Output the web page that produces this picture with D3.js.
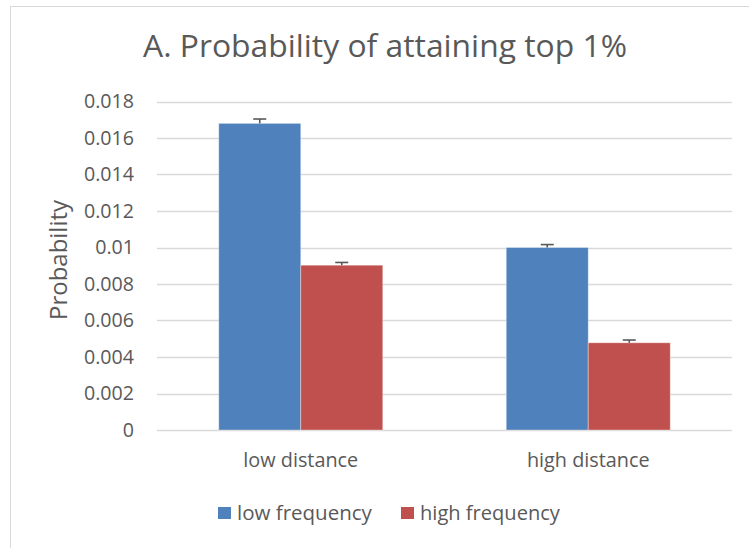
<!DOCTYPE html>
<html>
<head>
<meta charset="utf-8">
<script src="https://cdn.jsdelivr.net/npm/d3@7"></script>
<style>
  html, body { margin: 0; padding: 0; background: #fff; }
  svg { display: block; }
  text { font-family: "Open Sans", "Noto Sans", sans-serif; fill: #595959; }
</style>
</head>
<body>
<svg id="chart" width="749" height="548"></svg>
<script>
const chartTitle = "A. Probability of attaining top 1%";
const yAxisTitle = "Probability";
const categories = ["low distance", "high distance"];
const series = ["low frequency", "high frequency"];
const lowFrequency = [0.0168, 0.0100];
const highFrequency = [0.00903, 0.00478];
const lowFrequencyErr = [0.00024, 0.00016];
const highFrequencyErr = [0.00015, 0.00015];
const yTickValues = [0, 0.002, 0.004, 0.006, 0.008, 0.01, 0.012, 0.014, 0.016, 0.018];
const yTickLabels = ["0", "0.002", "0.004", "0.006", "0.008", "0.01", "0.012", "0.014", "0.016", "0.018"];
const colors = ["#4F81BD", "#C0504D"];

const values = [lowFrequency, highFrequency];
const errors = [lowFrequencyErr, highFrequencyErr];
const rows = [];
series.forEach((s, si) => categories.forEach((c, ci) => {
  rows.push({ series: s, category: c, value: values[si][ci], err: errors[si][ci], color: colors[si] });
}));

const svg = d3.select("#chart");

function fit(sel, w) {
  const l = sel.node().getComputedTextLength();
  const fs = parseFloat(sel.attr("font-size"));
  sel.attr("font-size", (fs * w / l).toFixed(2));
  return sel;
}
function fitAll(sel, refIndex, w) {
  const node = sel.nodes()[refIndex];
  const l = node.getComputedTextLength();
  const fs = parseFloat(d3.select(node).attr("font-size"));
  sel.attr("font-size", (fs * w / l).toFixed(2));
}

// outer border
svg.append("rect").attr("x", 10.5).attr("y", 6.5).attr("width", 800).attr("height", 600)
  .attr("fill", "#fff").attr("stroke", "#d9d9d9").attr("stroke-width", 1);

const plotLeft = 157, plotRight = 732, plotTop = 101.5, plotBottom = 430;

const y = d3.scaleLinear().domain([0, 0.018]).range([plotBottom, plotTop]);
const x0 = d3.scaleBand().domain(categories).range([plotLeft, plotRight]).paddingInner(0).paddingOuter(0);
const x1 = d3.scaleBand().domain(series).range([0, x0.bandwidth()]).paddingInner(0).paddingOuter(0.753);

// gridlines
svg.append("g").selectAll("line").data(yTickValues).join("line")
  .attr("x1", plotLeft).attr("x2", plotRight)
  .attr("y1", d => Math.round(y(d)) + 0.5).attr("y2", d => Math.round(y(d)) + 0.5)
  .attr("stroke", "#d9d9d9").attr("stroke-width", 1.3);

// y axis labels
const yAxis = d3.axisLeft(y).tickValues(yTickValues)
  .tickFormat((d, i) => yTickLabels[i]).tickSize(0).tickPadding(23);
const yg = svg.append("g").attr("transform", `translate(${plotLeft},0)`).call(yAxis);
yg.select(".domain").remove();
const yTexts = yg.selectAll("text").attr("font-size", 16.5).attr("fill", "#595959")
  .style("font-family", '"Open Sans", sans-serif');
fitAll(yTexts, yTickValues.length - 1, 50);

// bars
svg.append("g").selectAll("rect").data(rows).join("rect")
  .attr("x", d => x0(d.category) + x1(d.series))
  .attr("y", d => y(d.value))
  .attr("width", x1.bandwidth())
  .attr("height", d => y(0) - y(d.value))
  .attr("fill", d => d.color)
  .attr("stroke", "#ffffff").attr("stroke-opacity", 0.35).attr("stroke-width", 1);

// error bars (plus)
const eb = svg.append("g").attr("stroke", "#595959").attr("stroke-width", 1.6);
rows.forEach(d => {
  const cx = x0(d.category) + x1(d.series) + x1.bandwidth() / 2;
  eb.append("line").attr("x1", cx).attr("x2", cx).attr("y1", y(d.value)).attr("y2", y(d.value + d.err));
  eb.append("line").attr("x1", cx - 6.5).attr("x2", cx + 6.5).attr("y1", y(d.value + d.err)).attr("y2", y(d.value + d.err));
});

// x category labels
const xAxis = d3.axisBottom(x0).tickSize(0).tickPadding(23);
const xg = svg.append("g").attr("transform", `translate(0,${plotBottom})`).call(xAxis);
xg.select(".domain").remove();
const xTexts = xg.selectAll("text").attr("font-size", 17).attr("fill", "#595959")
  .style("font-family", '"Open Sans", sans-serif');
fitAll(xTexts, 0, 115);

// title
const t = svg.append("text").attr("x", 385).attr("y", 57).attr("text-anchor", "middle")
  .attr("font-size", 30).text(chartTitle);
fit(t, 484);

// y axis title
const yt = svg.append("text").attr("transform", "translate(67,260) rotate(-90)")
  .attr("text-anchor", "middle").attr("font-size", 17).text(yAxisTitle);
fit(yt, 120);

// legend
const legendX = [218, 401];
const lg = svg.append("g");
series.forEach((s, i) => {
  lg.append("rect").attr("x", legendX[i]).attr("y", 507).attr("width", 13).attr("height", 12).attr("fill", colors[i]);
  const lt = lg.append("text").attr("x", legendX[i] + 19).attr("y", 519.5).attr("font-size", 17).text(s);
  fit(lt, i === 0 ? 135 : 140);
});
</script>
</body>
</html>
